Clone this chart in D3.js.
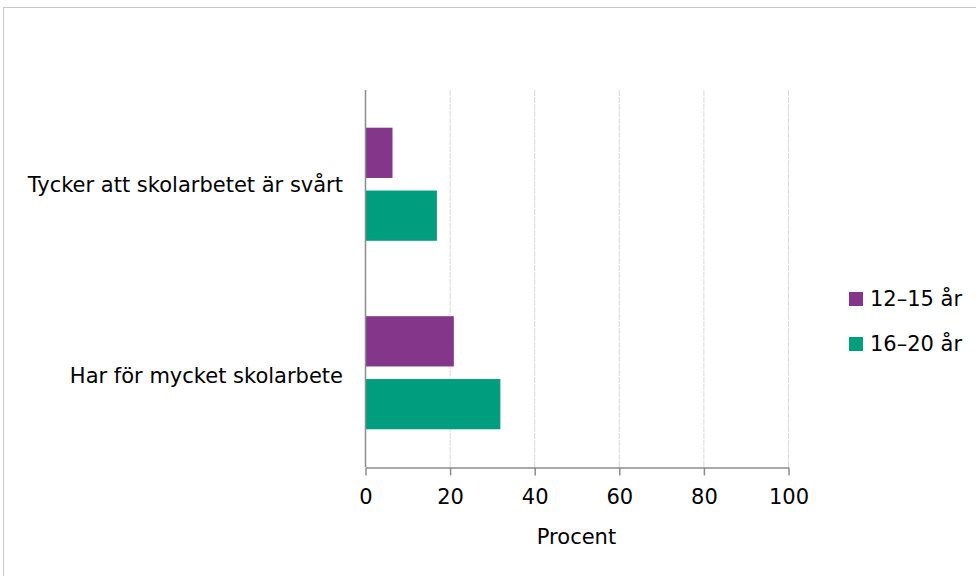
<!DOCTYPE html>
<html><head><meta charset="utf-8">
<script src="https://cdn.jsdelivr.net/npm/d3@7"></script>
<style>body{margin:0;background:#fff}svg{display:block}text{font-family:"DejaVu Sans",Verdana,sans-serif}</style>
</head><body>
<svg id="c" width="976" height="576"></svg>
<script>
const categories = ["Tycker att skolarbetet är svårt", "Har för mycket skolarbete"];
const seriesNames = ["12–15 år", "16–20 år"];
const values1215 = [6.5, 21];
const values1620 = [17, 32];
const seriesColors = ["#83368A", "#009E7E"];
const xTicks = [0, 20, 40, 60, 80, 100];
const xTitle = "Procent";

(function(){
const svg = d3.select("#c");
svg.append("rect").attr("x",3.5).attr("y",7.5).attr("width",990).attr("height",590)
  .attr("fill","#fff").attr("stroke","#c8c8c8");

const pL = 365, pR = 788, pT = 90, pB = 467;
const x = d3.scaleLinear().domain([0,100]).range([pL,pR]);
const y = d3.scaleBand().domain(categories).range([pT,pB]).paddingInner(0.4).paddingOuter(0.2);
const ySub = d3.scaleBand().domain(seriesNames).range([0,y.bandwidth()]).paddingInner(0.2);

const series = [values1215, values1620];

svg.append("g").selectAll("line").data(xTicks.filter(d=>d>0)).join("line")
  .attr("x1",d=>x(d)+0.5).attr("x2",d=>x(d)+0.5).attr("y1",pT).attr("y2",pB)
  .attr("stroke","#d9d9d9").attr("stroke-dasharray","6,1");

categories.forEach((c,i)=>{
  series.forEach((vals,s)=>{
    svg.append("rect")
      .attr("x",x(0)).attr("y",y(c)+ySub(seriesNames[s]))
      .attr("width",x(vals[i])-x(0)).attr("height",ySub.bandwidth())
      .attr("fill",seriesColors[s]);
  });
});

const xa = svg.append("g").attr("transform",`translate(0.5,${pB+0.5})`)
  .call(d3.axisBottom(x).tickValues(xTicks).tickSize(8).tickSizeOuter(0).tickPadding(14));
xa.select(".domain").attr("stroke","#8c8c8c").attr("stroke-width",1.5);
xa.selectAll(".tick line").attr("stroke","#8c8c8c").attr("stroke-width",1.5);
xa.selectAll(".tick text").attr("font-size",21).attr("fill","#000").attr("font-family","DejaVu Sans");

svg.append("line").attr("x1",pL+0.5).attr("x2",pL+0.5).attr("y1",pT).attr("y2",pB)
  .attr("stroke","#8c8c8c").attr("stroke-width",1.5);

svg.append("g").selectAll("text").data(categories).join("text")
  .attr("x",pL-22).attr("y",(d,i)=>y(d)+y.bandwidth()/2+(i?3:0)).attr("dy","0.35em")
  .attr("text-anchor","end").attr("font-size",21).attr("fill","#000").text(d=>d);

svg.append("text").attr("x",(pL+pR)/2).attr("y",537).attr("dy","0.35em")
  .attr("text-anchor","middle").attr("font-size",21).attr("fill","#000").text(xTitle);

const lg = svg.append("g").selectAll("g").data(seriesNames).join("g")
  .attr("transform",(d,i)=>`translate(849,${292+i*45})`);
lg.append("rect").attr("width",14).attr("height",14).attr("fill",(d,i)=>seriesColors[i]);
lg.append("text").attr("x",21).attr("y",7).attr("dy","0.35em").attr("font-size",21).attr("fill","#000").text(d=>d);
})();
</script>
</body></html>
